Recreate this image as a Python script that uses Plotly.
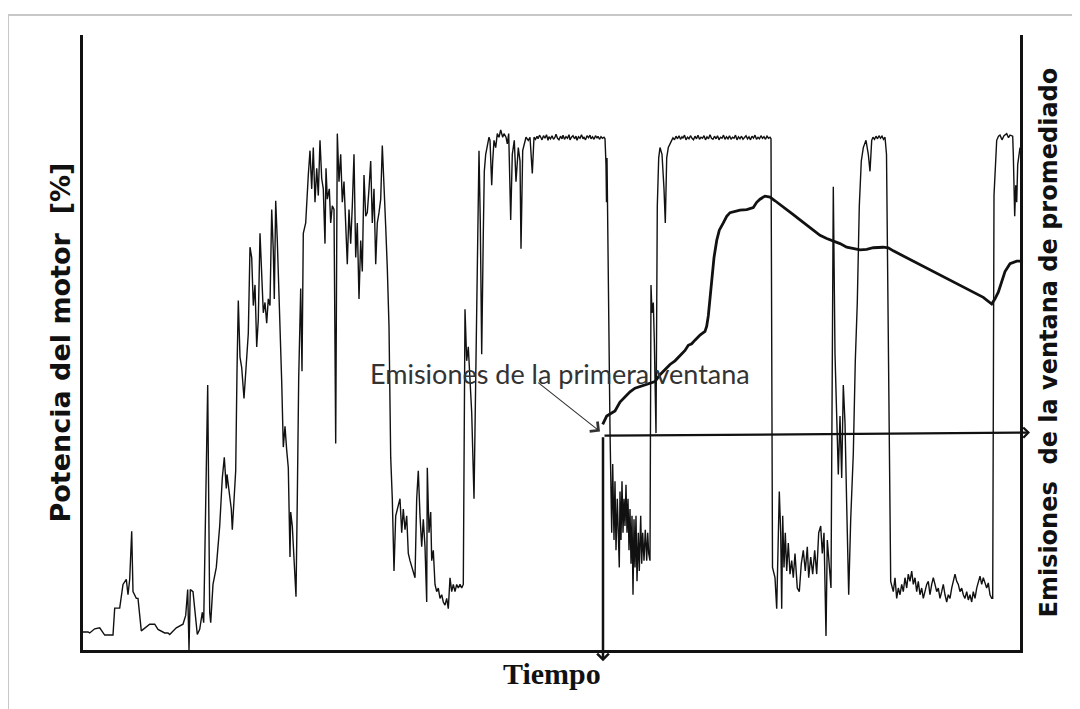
import plotly.graph_objects as go

# ---- Engine power trace (time [s], power [%]) ----
seg_idle = [(0,3.5),(5,3.5),(6.7,3.3),(11.7,4.1),(16.7,4.3),(21.7,2.9),(30,2.9),(31.7,8.1),(36.7,8.1),
            (40,12.7),(43.3,13.7),(45,10.7),(46.7,13.7),(48.7,23),(50,11.3),(53.3,10),(55,10),(58.3,3.7),
            (66.7,5),(71.7,5),(75,4),(81.7,3.3),(85,3.3),(86.7,3),(93.3,4.3),(100,5),(102.7,6.7),(104.7,11.7),
            (106,0),(107.3,11.7),(110,11.3),(114.3,3),(116.7,4),(119.3,7.3),(120.7,5.3),(124.7,51.3),(126.7,7.3),
            (127.7,5.3),(130,12.7),(133.3,16),(136.7,24),(139.3,33.3),(141.3,37.3),(143.3,31.3),(144,34),
            (146,30.7),(148.3,27.3),(149.3,23.3),(152.7,34.7),(154,54),(155.3,67.7)]

seg_rise = [(157,56.7),(158.7,54.7),(161,48.7),(163.7,56),(165.3,61.3),(167,78),(168.7,76),(170.3,66.7),
            (172,70.7),(173.7,58.7),(175.3,64),(177,80.7),(178.7,70.7),(180.3,65.3),(182,67.3),(183.7,63.3),
            (185.3,68),(187,66.7),(188.7,85.3),(190.3,77.3),(191.3,68),(192.7,87),(194.3,79.3),(196,69.3),
            (197.7,57.3),(198.7,52),(200.3,39.3),(202,43.3),(203.7,38.7),(205.3,35.3),(207,18),(207.7,26.7),
            (209.3,24),(211.3,16),(213,10.3),(214.3,29.3),(215.7,52.7),(217.7,70),(219,54),(220.3,80.7),
            (222.7,82.7),(225.3,92),(227,96.7),(228.7,89.3),(230.3,97.3),(232,86.7),(233.7,93.3),(235.3,88),
            (237,98.7),(238.7,91.3),(240.3,89.3),(242,78.7),(243,93.3),(244.3,87.3),(246.3,89.3),(247.7,82.7),
            (249.3,86),(251,85.3),(252.7,40),(254.3,100),(256,90.7),(257.7,96),(259.3,86.7),(261,90.7),
            (262.7,82.7),(264.3,74.7),(266,85.3),(267.7,78.7),(269.3,86),(271,96),(272.7,76),(274.3,82.7),
            (276,68),(277.7,79.3),(279.3,73.3),(281,92),(282.7,84),(284.3,84.7),(286,89.3),(287.7,94.7),
            (289.3,82.7),(291,89.3),(292.7,74.7),(294.3,82.7),(296,84.7),(297.7,87.3),(299.3,97.7),(301,88),
            (302.7,82),(304.3,74),(306,62.7),(307.7,37.3),(309.3,29.3),(311,15.3),(312.7,26)]

seg_low1 = [(317,29.3),(318.7,22.7),(320.3,27.3),(322,23.3),(323.7,26),(325.3,18.7),(327,17.3),(328.7,16),
            (330.3,15.3),(332,14),(333.7,29.3),(335.3,34.7),(337,26),(338.7,20),(340.3,25.3),(342,20),
            (343.7,9.3),(344.3,35.3),(346,22.7),(347.7,26.7),(348.7,17.3),(350.3,19.3),(352,12.7),(353.7,11.3),
            (355.3,12),(357,10),(358.7,10.7),(360.3,9.3),(362,8.7),(363.7,10),(365.3,8),(367,14),(368.7,11.3),
            (370.3,12.7),(372,11.3),(373.7,12.7),(375.3,12),(377,12.7),(378.7,12),(380.3,12.7),(382,66),
            (383.7,56),(385.3,58.7),(387,50.7),(388.7,46),(391,29.3),(392.3,46),(393.7,61.3),(396,96.7),
            (397.3,82.7),(398.7,57.3),(400.3,80.7),(401.3,92.7),(402.7,96),(404.3,97.3),(406,99.3),(407,98.7),
            (408.7,90),(409.7,94.7),(411,98.7),(412.7,97.3),(414.3,100),(416,99.3),(417.7,100.7),(419.7,99.3),
            (421,100),(423,99.3),(424.3,98),(425.7,100),(427.7,83.3),(429.3,96),(431.3,98.7),(433,90.7),
            (435.3,97.3),(437,94.7),(438,77.7),(439.7,96.7),(441.3,98),(443,99.3),(445.3,98.7),(447,99.3),
            (449.3,92.3),(451,99.3)]

plateau1 = [(452.5,98.9),(454,99.5),(455,99.0),(456.5,99.7),(458,99.2),(459,98.8),(460.5,99.6),(462,99.1),
            (463.5,99.8),(465,98.7),(466,99.4),(467.5,99.0),(469,99.6),(470.5,98.9),(472,99.3),(473,99.9),
            (474.5,99.1),(476,98.8),(477.5,99.5),(479,99.0),(480,99.7),(481.5,98.9),(483,99.4),(484.5,99.1),
            (486,99.8),(487,98.8),(488.5,99.3),(490,99.6),(491.5,99.0),(493,99.5),(494,98.7),(495.5,99.4),
            (497,99.1),(498.5,99.8),(500,99.0),(501,99.3),(502.5,98.8),(504,99.6),(505.5,99.2),(507,99.7),
            (508,99.0),(509.5,99.4),(511,98.9),(512.5,99.6),(514,99.1),(515,99.5),(516.5,98.9),(518,99.4),
            (519.5,99.1),(521,99.3),(522,99.0)]

seg_low2 = [(523,94),(523.5,86.7),(524,95.3),(527,42.7),(527.7,36),(528.7,22.7),(529.7,36),(531,21.3),
            (532,32.7),(533,19.3),(534.3,29.3),(535.3,23.3),(536.3,16),(537,30.7),(538,21.3),(539,32.7),
            (540,22.7),(541,29.3),(542,24),(543,32),(544,22.7),(545,29.3),(546,19.3),(547,27.3),(548,16.7),
            (549,26),(550,10.7),(551,25.3),(552,16),(553,26),(554,13.3),(555.3,22.7),(556.3,15.3),(557.7,26),
            (558.7,16.7),(559.7,22.7),(561,17.3),(562.3,23.3),(563.7,17.3),(564.7,22.7),(565.7,18.7),
            (567,17.3),(568,70.7),(569,65.3),(570.3,67.3),(571.3,60),(573,42),(574.3,86),(575.7,95.3),
            (577,97.3),(579,96),(581,89.3),(582.3,82.7),(583.7,95.3),(585.3,97.3),(588.7,98.7)]

plateau2 = [(590,99.2),(591.5,98.8),(593,99.5),(594.5,99.0),(596,99.6),(597.5,98.9),(599,99.4),(600,99.1),
            (601.5,99.7),(603,98.8),(604.5,99.3),(606,99.0),(607.5,99.6),(609,99.1),(610.5,98.8),(612,99.5),
            (613.5,99.0),(615,99.7),(616.5,98.9),(618,99.3),(619.5,99.1),(621,99.6),(622.5,98.8),(624,99.4),
            (625.5,99.0),(627,99.8),(628.5,99.1),(630,98.9),(631.5,99.5),(633,99.0),(634.5,99.6),(636,98.8),
            (637.5,99.3),(639,99.1),(640.5,99.7),(642,98.9),(643.5,99.4),(645,99.0),(646.5,99.6),(648,98.9),
            (649.5,99.3),(651,99.1),(652.5,99.7),(654,98.8),(655.5,99.4),(657,99.0),(658.5,99.5),(660,98.9),
            (661.5,99.3),(663,99.6),(664.5,99.0),(666,99.4),(667.5,98.8),(669,99.5),(670.5,99.1),(672,99.7),
            (673.5,98.9),(675,99.3),(676.5,99.0),(678,99.6),(679.5,99.1),(681,99.4),(682.5,98.9),(684,99.5),
            (685.5,99.1),(687,99.3),(688,99.0)]

seg_low3 = [(689.5,16),(692,14),(693.7,8),(696.3,30.7),(697.7,22.7),(698.7,8),(699.7,26),(701,16),
            (702.3,22.7),(703.7,15.3),(705.3,20.7),(707,14.7),(708.7,17.3),(710.3,14),(712,18.7),(714.3,12),
            (716.3,11.3),(718.3,16.7),(720.3,19.3),(722.3,15.3),(724.3,20),(725.7,14),(727.7,18),(729.7,14.7),
            (731.7,19.3),(733.7,14.7),(735.7,22.7),(737.7,24),(739.3,18.7),(741,22.7),(743,2.7),(744.3,21.3),
            (746,16),(748,12),(750.3,89.7),(752,57.3),(753.7,45.3),(755.3,34),(757,45.3),(758.7,33.3),
            (760.3,51.3),(762,44),(763.7,28),(765.7,10.7),(767.7,25.3),(770.3,38),(772.3,56),(774.3,67.3),
            (776.3,86),(778.3,94.7),(780.3,97.3),(783,98.7),(785.3,96),(787,92.7),(788.7,98.7)]

plateau3 = [(790,99.3),(791.5,98.9),(793,99.5),(794.5,99.0),(796,99.6),(797.5,99.1),(799,99.5),(800.5,98.9),
            (802,99.3),(803.5,96)]

seg_low4 = [(807.7,13.3),(810.3,11.3),(812,14),(813.7,10),(815.3,12),(817,10.7),(818.7,12.7),(820.3,11.3),
            (822,14),(823.7,12),(825.3,14.7),(827,13.3),(828.7,15.3),(830.3,12.7),(832,14),(833.7,11.3),
            (835.3,13.3),(837,10.7),(838.7,12),(840.3,10),(842,11.3),(843.7,12.7),(845.3,13.3),(847,10.7),
            (848.7,12.7),(850.3,14),(852,12.7),(853.7,11.3),(855.3,12),(857,10),(858.7,11.3),(860.3,12.7),
            (862,10.7),(863.7,9.3),(865.3,10.7),(867,10),(868.7,12),(870.3,13.3),(872,14.7),(873.7,13.3),
            (875.3,12.7),(877,11.3),(878.7,12),(880.3,10.7),(882,10),(883.7,11.3),(885.3,9.7),(887,10.7),
            (888.7,9.3),(890.3,11.3),(892,10),(893.7,12),(895.3,13.3),(897,14.3),(898.7,12.7),(900.3,14),
            (902,13),(903.7,12),(905.3,13),(907,10.7),(908.7,10),(909.7,10)]

plateau4 = [(911,88),(912.5,95),(913.7,98.7),(915.5,99.5),(917,99.7),(919,98.8),(921,99.6),(923.7,100.0),
            (925.5,99.2),(927,99.7),(929.7,99.5),(930.3,96),(931,89.3),(931.7,84),(932.7,90),(933.7,86.7),
            (934.7,94),(936,96.7),(937,97.3)]

power_segments = [seg_idle, seg_rise, seg_low1, plateau1, seg_low2, plateau2, seg_low3, plateau3, seg_low4, plateau4]
t_power = [p[0] for seg in power_segments for p in seg]
power = [p[1] for seg in power_segments for p in seg]

# ---- Averaging-window emissions (time [s], arbitrary units) ----
emissions = [(519.7,43.7),(523.7,45.3),(527,45.7),(532,46.3),(537,48),(543.7,49.3),(547,50),(552,50.7),
             (557,51),(562,51.3),(567,51.7),(572,52),(577,53.3),(580.3,54),(583.7,54.7),(587,55.3),(592,56),
             (597,57),(602,58),(605.3,59),(608.7,59.3),(612,60),(617,61),(622,61.7),(623.7,62.7),(625.3,64.7),
             (627,68),(628.7,71.3),(631,76),(633.7,79.3),(636.3,81.3),(640.3,82.7),(643.7,84),(647,84.7),
             (652,85),(657,85.2),(663.7,85.3),(670.3,85.7),(673.7,86.7),(677,87.3),(682,87.9),(687,87.7),
             (692,87),(697,86.3),(703.7,85.3),(710.3,84.3),(717,83.3),(723.7,82.3),(730.3,81.3),(737,80.3),
             (743.7,79.7),(750.3,79.2),(757,78.7),(763.7,78),(770.3,77.7),(777,77.5),(783.7,77.6),(790.3,77.9),
             (800.3,78),(805.3,77.9),(810.3,77.3),(820.3,76.3),(837,74.7),(853.7,73),(870.3,71.3),(887,69.7),
             (900.3,68.3),(908.7,67),(912,68),(915.3,69.3),(918.7,71.3),(922,73.3),(927,74.8),(933.7,75.3),
             (937,75.3)]
t_emis = [p[0] for p in emissions]
emis = [p[1] for p in emissions]

# Window start marker and arrow tips (time, value)
window_start = (520, 41.5)
time_arrow_tip = (520, -2.2)
emis_arrow_tip = (947, 42.1)
label_arrow_tail = (453.7, 52.0)
label_arrow_tip = (517, 42.3)
label_pos = (285, 53.5)

X_RANGE = [0, 937]
Y_RANGE = [0, 119.1]

fig = go.Figure()
fig.add_trace(go.Scatter(x=t_power, y=power, mode="lines",
                         line=dict(color="#111111", width=1.4), hoverinfo="skip"))
fig.add_trace(go.Scatter(x=t_emis, y=emis, mode="lines", yaxis="y2",
                         line=dict(color="#111111", width=2.8), hoverinfo="skip"))

axis_common = dict(showgrid=False, zeroline=False, showticklabels=False, ticks="",
                   showline=True, linecolor="#111111", linewidth=2.5)

# page body adds an 8px offset, so margins are shifted to land the axes where the reference has them
fig.update_layout(
    width=1080, height=709,
    margin=dict(l=75, r=68, t=27, b=67),
    paper_bgcolor="white", plot_bgcolor="white",
    showlegend=False,
    xaxis=dict(range=X_RANGE, **axis_common),
    yaxis=dict(range=Y_RANGE, **axis_common),
    yaxis2=dict(range=Y_RANGE, overlaying="y", side="right", **axis_common),
)

annotations = [
    dict(x=time_arrow_tip[0], y=time_arrow_tip[1], ax=window_start[0], ay=window_start[1],
         xref="x", yref="y", axref="x", ayref="y", text="", showarrow=True,
         arrowhead=4, arrowsize=0.9, arrowwidth=2.5, arrowcolor="#111111"),
    dict(x=emis_arrow_tip[0], y=emis_arrow_tip[1], ax=window_start[0], ay=window_start[1],
         xref="x", yref="y", axref="x", ayref="y", text="", showarrow=True,
         arrowhead=4, arrowsize=0.9, arrowwidth=2.2, arrowcolor="#111111"),
    dict(x=label_arrow_tip[0], y=label_arrow_tip[1], ax=label_arrow_tail[0], ay=label_arrow_tail[1],
         xref="x", yref="y", axref="x", ayref="y", text="", showarrow=True,
         arrowhead=4, arrowsize=2.2, arrowwidth=1.1, arrowcolor="#333333"),
    dict(x=label_pos[0], y=label_pos[1], xref="x", yref="y", text="Emisiones de la primera ventana",
         showarrow=False, xanchor="left", yanchor="middle",
         font=dict(family="Lato", size=27, color="#333333")),
    dict(x=-0.0245, y=0.5, xref="paper", yref="paper", textangle=-90,
         text="<b>Potencia del motor\u00a0\u00a0[%]</b>", showarrow=False,
         xanchor="center", yanchor="middle",
         font=dict(family="DejaVu Sans", size=27, color="#111111")),
    dict(x=1.0299, y=0.5, xref="paper", yref="paper", textangle=-90,
         text="<b>Emisiones\u00a0\u00a0de la ventana de promediado</b>", showarrow=False,
         xanchor="center", yanchor="middle",
         font=dict(family="DejaVu Sans", size=24, color="#111111")),
    dict(x=0.5, y=-0.0374, xref="paper", yref="paper",
         text="<b>Tiempo</b>", showarrow=False, xanchor="center", yanchor="middle",
         font=dict(family="Liberation Serif", size=30, color="#111111")),
]
fig.update_layout(annotations=annotations)

# light grey outer frame of the figure
fig.add_shape(type="rect", xref="paper", yref="paper", x0=-0.080, x1=1.2, y0=-0.3, y1=1.0325,
              line=dict(color="#c8c8c8", width=2), fillcolor="rgba(0,0,0,0)", layer="below")

fig.write_html("out.html")
